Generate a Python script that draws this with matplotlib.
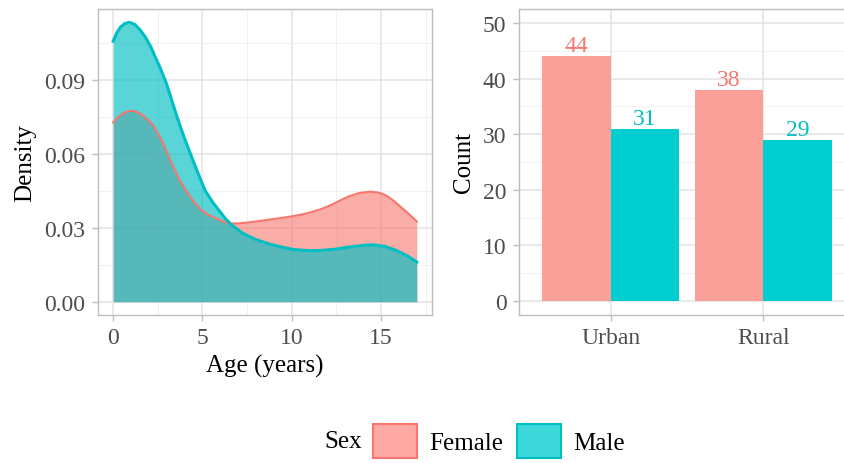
import matplotlib
matplotlib.use("Agg")
import matplotlib.pyplot as plt
from matplotlib.patches import Patch
from matplotlib.ticker import MultipleLocator

# density curves
female_age = [0, 0.25, 0.5, 0.75, 1.0, 1.25, 1.54, 1.9, 2.28, 2.6, 2.94, 3.4, 3.75,
              4.14, 4.5, 4.89, 5.3, 5.82, 6.2, 6.56, 7.0, 7.7, 8.4, 9.0, 9.6, 10.1,
              10.6, 11.1, 11.6, 12.2, 12.7, 13.2, 13.8, 14.4, 14.9, 15.3, 15.7, 16.1,
              16.5, 17.0]
female_dens = [0.0728, 0.0748, 0.0763, 0.0772, 0.0776, 0.0773, 0.0763, 0.0742, 0.0712,
               0.0672, 0.062, 0.0542, 0.0490, 0.0445, 0.0407, 0.0376, 0.0354, 0.0336,
               0.0324, 0.0318, 0.0318, 0.0323, 0.033, 0.0336, 0.0342, 0.0348, 0.0355,
               0.0364, 0.0375, 0.0393, 0.0411, 0.0428, 0.0442, 0.0447, 0.0443, 0.0431,
               0.0410, 0.0385, 0.0360, 0.0326]
male_age = [0, 0.2, 0.4, 0.65, 0.9, 1.2, 1.5, 1.8, 2.11, 2.38, 2.66, 2.94, 3.25, 3.58,
            3.95, 4.33, 4.75, 5.16, 5.6, 6.0, 6.3, 6.65, 7.3, 8.0, 8.8, 9.5, 10.1,
            11.0, 11.6, 12.4, 13.1, 14.0, 14.55, 15.2, 15.86, 16.5, 17.0]
male_dens = [0.1058, 0.1092, 0.1115, 0.1130, 0.1135, 0.1127, 0.1105, 0.1075, 0.1035,
             0.0990, 0.0945, 0.0895, 0.0825, 0.075, 0.0672, 0.06, 0.0522, 0.045,
             0.0401, 0.0364, 0.0336, 0.031, 0.0276, 0.0252, 0.0233, 0.0221, 0.0212,
             0.0207, 0.0208, 0.0213, 0.0221, 0.0229, 0.0231, 0.0225, 0.0208, 0.0185,
             0.0161]

# counts by area
areas = ["Urban", "Rural"]
female_counts = [44, 38]
male_counts = [31, 29]

red = "#F8766D"
cyan = "#00BFC4"
tickCol = "#4D4D4D"
gridCol = "#E3E3E3"
borderCol = "#BDBDBD"

plt.rcParams['font.family'] = ['Liberation Serif', 'DejaVu Serif']
tickSize = 17
labelSize = 18

fig = plt.figure(figsize=(8.45, 4.64), dpi=100)
W, H = 845.0, 464.0
ax1 = fig.add_axes([98 / W, (H - 316) / H, (432 - 98) / W, 306 / H])
ax2 = fig.add_axes([519 / W, (H - 316) / H, (855 - 519) / W, 306 / H])


def styleAxis(ax):
    ax.set_axisbelow(True)
    ax.grid(which='major', color=gridCol, linewidth=1.1)
    ax.grid(which='minor', color="#EFEFEF", linewidth=0.6)
    for s in ax.spines.values():
        s.set_color(borderCol)
        s.set_linewidth(1.0)
    ax.tick_params(which='major', colors=borderCol, length=4, width=1, pad=5,
                   labelcolor=tickCol, labelsize=tickSize)
    ax.tick_params(which='minor', length=0)


# density panel
ax1.fill_between(female_age, female_dens, color=red, alpha=0.6, linewidth=0)
ax1.plot(female_age, female_dens, color=red, linewidth=1.5)
ax1.fill_between(male_age, male_dens, color=cyan, alpha=0.65, linewidth=0)
ax1.plot(male_age, male_dens, color=cyan, linewidth=2.2)
ax1.set_xlim(-0.85, 17.85)
ax1.set_ylim(-0.0054, 0.1189)
ax1.set_xticks([0, 5, 10, 15])
ax1.set_yticks([0, 0.03, 0.06, 0.09])
ax1.set_yticklabels(["0.00", "0.03", "0.06", "0.09"])
ax1.xaxis.set_minor_locator(MultipleLocator(2.5))
ax1.yaxis.set_minor_locator(MultipleLocator(0.015))
styleAxis(ax1)
ax1.set_xlabel("Age (years)", fontsize=labelSize, labelpad=4)
ax1.set_ylabel("Density", fontsize=labelSize, labelpad=6)

# count panel
pos = [1, 2]
w = 0.45
ax2.bar([p - w / 2 for p in pos], female_counts, width=w, color="#FB9F99", linewidth=0)
ax2.bar([p + w / 2 for p in pos], male_counts, width=w, color="#00CED1", linewidth=0)
for p, f, m in zip(pos, female_counts, male_counts):
    ax2.annotate(str(f), (p - w / 2, f), xytext=(0, 0), textcoords='offset points',
                 ha='center', va='bottom', color=red, fontsize=tickSize)
    ax2.annotate(str(m), (p + w / 2, m), xytext=(0, 0), textcoords='offset points',
                 ha='center', va='bottom', color=cyan, fontsize=tickSize)
ax2.set_xlim(0.4, 2.6)
ax2.set_ylim(-2.5, 52.5)
ax2.set_xticks(pos)
ax2.set_xticklabels(areas)
ax2.set_yticks(range(0, 51, 10))
ax2.yaxis.set_minor_locator(MultipleLocator(5))
styleAxis(ax2)
ax2.set_ylabel("Count", fontsize=labelSize, labelpad=6)

# legend at the bottom
handles = [Patch(facecolor="#FFA9A4", edgecolor=red, linewidth=1.5, label="Female"),
           Patch(facecolor="#3DD8DB", edgecolor=cyan, linewidth=1.5, label="Male")]
fig.legend(handles=handles, loc='center left', bbox_to_anchor=(373 / W, 1 - 442 / H),
           ncol=2, frameon=False, fontsize=labelSize, borderpad=0, borderaxespad=0,
           handlelength=1.75, handleheight=1.75, handletextpad=0.5, columnspacing=0.55)
fig.text(324 / W, 1 - 442 / H, "Sex", fontsize=labelSize, va='center', ha='left')

fig.savefig("out.png", dpi=100)
